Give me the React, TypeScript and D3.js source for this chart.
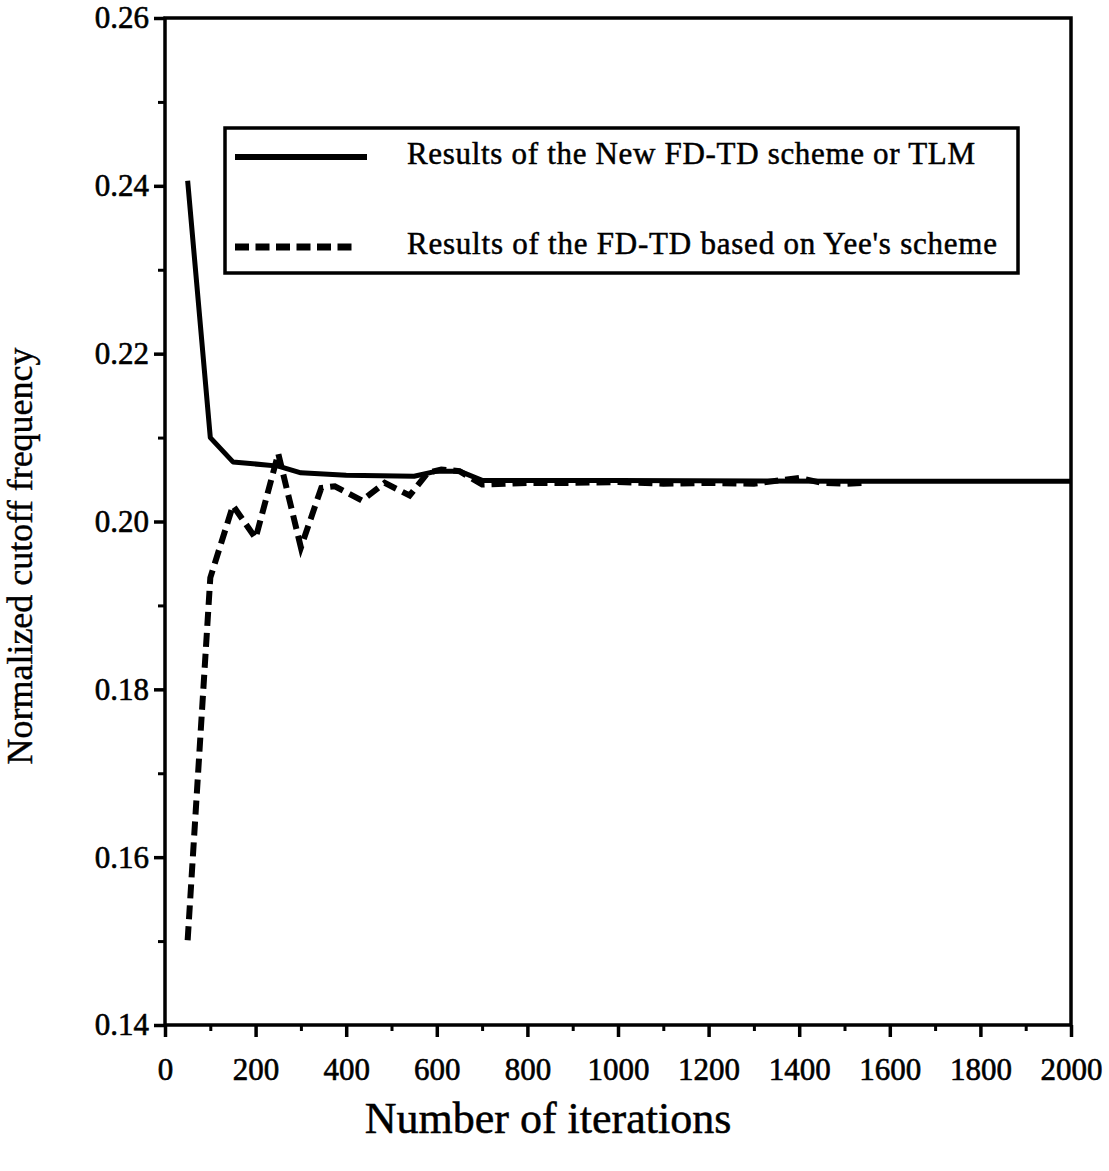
import React, { useRef, useEffect } from 'react';
import * as d3 from 'd3';

// iterations / normalized cutoff frequency
const newIters = [50, 100, 150, 250, 300, 400, 550, 600, 650, 700, 1000, 1500, 2000];
const newFreq = [0.2406, 0.2100, 0.2071, 0.2066, 0.2058, 0.2055, 0.2054, 0.2060, 0.2060, 0.2049, 0.2049, 0.2048, 0.2048];

const yeeIters = [50, 100, 150, 200, 250, 300, 345, 375, 435, 485, 540, 580, 610, 650, 700, 750, 800, 900, 1000, 1100, 1200, 1300, 1400, 1450, 1500, 1550];
const yeeFreq = [0.1501, 0.1933, 0.2019, 0.1980, 0.2081, 0.1969, 0.2040, 0.2042, 0.2025, 0.2046, 0.2031, 0.2058, 0.2062, 0.2060, 0.2044, 0.2045, 0.2046, 0.2046, 0.2047, 0.2045, 0.2046, 0.2045, 0.2052, 0.2046, 0.2045, 0.2046];

const xTicks = [0, 200, 400, 600, 800, 1000, 1200, 1400, 1600, 1800, 2000];
const yTicks = [0.14, 0.16, 0.18, 0.20, 0.22, 0.24, 0.26];

const legendLabels = [
    'Results of the New FD-TD scheme or TLM',
    "Results of the FD-TD based on Yee's scheme",
];

const FONT = '"Liberation Serif", "Times New Roman", serif';

const App = () => {
    const chartRef = useRef<SVGSVGElement>(null);

    useEffect(() => {
        const svg = d3.select(chartRef.current);
        svg.selectAll('*').remove();

        const left = 165, right = 1071, top = 18, bottom = 1025;

        const x = d3.scaleLinear().domain([0, 2000]).range([left, right]);
        const y = d3.scaleLinear().domain([0.14, 0.26]).range([bottom, top]);

        // minor ticks first, then major ones with labels
        svg.append('g')
            .attr('transform', `translate(0,${bottom})`)
            .call(d3.axisBottom(x).tickValues(d3.range(100, 2000, 200)).tickSize(6).tickFormat(() => ''))
            .call(g => g.select('.domain').remove())
            .call(g => g.selectAll('line').attr('stroke-width', 3));

        svg.append('g')
            .attr('transform', `translate(0,${bottom})`)
            .call(d3.axisBottom(x).tickValues(xTicks).tickSize(12).tickPadding(21).tickFormat(d3.format('d')))
            .call(g => g.select('.domain').remove())
            .call(g => g.selectAll('line').attr('stroke-width', 3.5))
            .call(g => g.selectAll('text')
                .attr('font-family', FONT)
                .attr('font-size', 31)
                .attr('fill', '#000')
                .attr('stroke', '#000')
                .attr('stroke-width', 0.6));

        svg.append('g')
            .attr('transform', `translate(${left},0)`)
            .call(d3.axisLeft(y).tickValues([0.15, 0.17, 0.19, 0.21, 0.23, 0.25]).tickSize(7).tickFormat(() => ''))
            .call(g => g.select('.domain').remove())
            .call(g => g.selectAll('line').attr('stroke-width', 3));

        svg.append('g')
            .attr('transform', `translate(${left},0)`)
            .call(d3.axisLeft(y).tickValues(yTicks).tickSize(11).tickPadding(5).tickFormat(d3.format('.2f')))
            .call(g => g.select('.domain').remove())
            .call(g => g.selectAll('line').attr('stroke-width', 3.5))
            .call(g => g.selectAll('text')
                .attr('font-family', FONT)
                .attr('font-size', 31)
                .attr('fill', '#000')
                .attr('stroke', '#000')
                .attr('stroke-width', 0.6));

        // frame
        svg.append('rect')
            .attr('x', left)
            .attr('y', top)
            .attr('width', right - left)
            .attr('height', bottom - top)
            .attr('fill', 'none')
            .attr('stroke', '#000')
            .attr('stroke-width', 3.5);

        const line = d3.line<[number, number]>()
            .x(d => x(d[0]))
            .y(d => y(d[1]));

        svg.append('path')
            .datum(yeeIters.map((v, i) => [v, yeeFreq[i]] as [number, number]))
            .attr('d', line)
            .attr('fill', 'none')
            .attr('stroke', '#000')
            .attr('stroke-width', 6)
            .attr('stroke-dasharray', '14,7');

        svg.append('path')
            .datum(newIters.map((v, i) => [v, newFreq[i]] as [number, number]))
            .attr('d', line)
            .attr('fill', 'none')
            .attr('stroke', '#000')
            .attr('stroke-width', 5)
            .attr('stroke-linejoin', 'round');

        // legend
        const lg = svg.append('g');
        lg.append('rect')
            .attr('x', 225).attr('y', 128)
            .attr('width', 793).attr('height', 145)
            .attr('fill', '#fff')
            .attr('stroke', '#000')
            .attr('stroke-width', 3.5);

        const rows = [157, 247];
        legendLabels.forEach((label, i) => {
            lg.append('line')
                .attr('x1', 235).attr('x2', i === 0 ? 367 : 358)
                .attr('y1', rows[i]).attr('y2', rows[i])
                .attr('stroke', '#000')
                .attr('stroke-width', i === 0 ? 6 : 7)
                .attr('stroke-dasharray', i === 0 ? null : '14,6.5');
            lg.append('text')
                .attr('x', 407)
                .attr('y', rows[i] + 7)
                .attr('font-family', FONT)
                .attr('font-size', 31)
                .attr('stroke', '#000')
                .attr('stroke-width', 0.5)
                .attr('textLength', i === 0 ? 568 : 590)
                .text(label);
        });

        // axis titles
        svg.append('text')
            .attr('x', 548)
            .attr('y', 1133)
            .attr('text-anchor', 'middle')
            .attr('font-family', FONT)
            .attr('font-size', 44)
            .attr('stroke', '#000')
            .attr('stroke-width', 0.5)
            .text('Number of iterations');

        svg.append('text')
            .attr('transform', 'translate(32,556) rotate(-90)')
            .attr('text-anchor', 'middle')
            .attr('font-family', FONT)
            .attr('font-size', 36)
            .attr('stroke', '#000')
            .attr('stroke-width', 0.4)
            .text('Normalized cutoff frequency');
    }, []);

    return (
        <svg
            ref={chartRef}
            width={1109}
            height={1171}
            style={{ position: 'absolute', left: 0, top: 0, background: '#fff' }}
        />
    );
};

export default App;
